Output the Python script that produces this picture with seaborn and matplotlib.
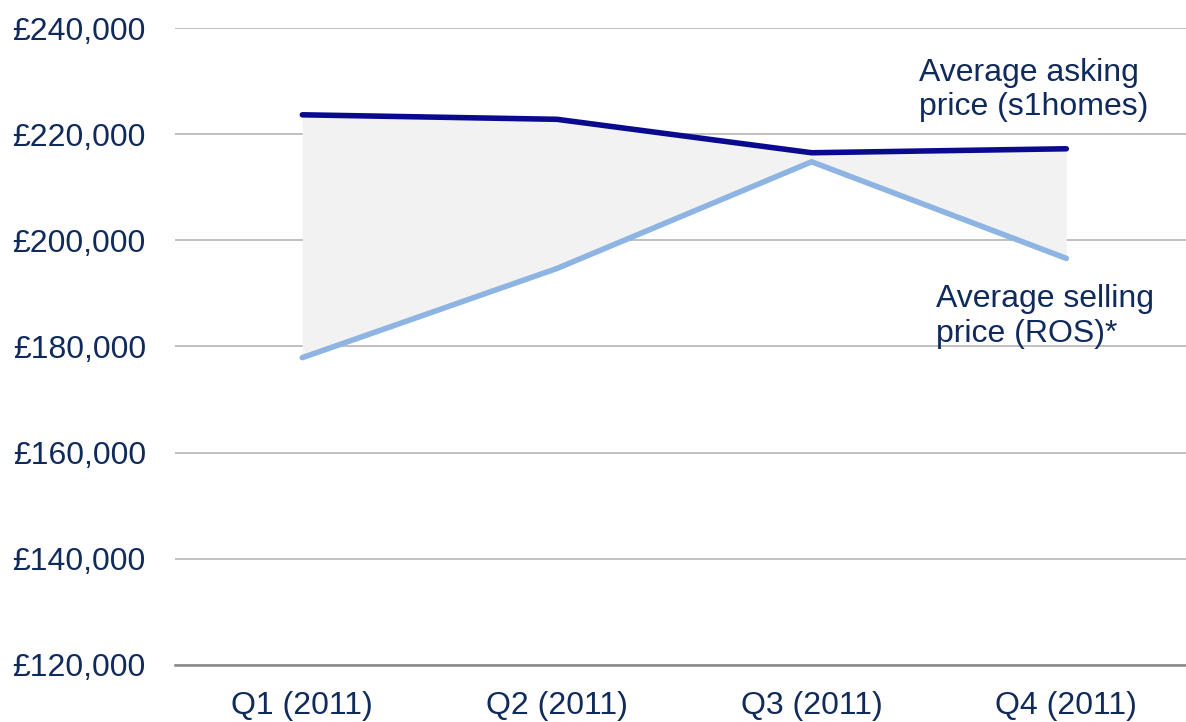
import pandas as pd
import seaborn as sns
import matplotlib.pyplot as plt
from matplotlib.ticker import FuncFormatter

# data
quarters = ["Q1 (2011)", "Q2 (2011)", "Q3 (2011)", "Q4 (2011)"]
asking_price = [223650, 222800, 216500, 217250]
selling_price = [177900, 194700, 214800, 196600]

text_col = "#102a5c"

df = pd.DataFrame({"pos": range(len(quarters)), "quarter": quarters,
                   "asking": asking_price, "selling": selling_price})

sns.set_style("white")
plt.rcParams["font.family"] = ["Liberation Sans", "DejaVu Sans"]

fig = plt.figure(figsize=(11.86, 7.22), dpi=100)
ax = fig.add_axes([175 / 1186, 0.079, 1 - 175 / 1186, 0.8822])

# shaded gap between the two prices
ax.fill_between(df["pos"], df["asking"], df["selling"], color="#f2f2f2", zorder=1, lw=0)

sns.lineplot(data=df, x="pos", y="asking", color="#0a0a8f", lw=4, ax=ax, zorder=3,
             solid_capstyle="round")
sns.lineplot(data=df, x="pos", y="selling", color="#8db4e2", lw=4, ax=ax, zorder=2,
             solid_capstyle="round")

ax.set_xlim(-0.5, 3.47)
ax.set_ylim(120000, 240000)
ax.set_yticks(range(120000, 240001, 20000))
ax.yaxis.set_major_formatter(FuncFormatter(lambda v, p: f"£{int(v):,}"))
ax.set_xticks(df["pos"])
ax.set_xticklabels(quarters)
ax.set_xlabel("")
ax.set_ylabel("")

ax.grid(axis="y", color="#c0c0c0", lw=1.4)
ax.set_axisbelow(True)
for s in ["top", "right", "left"]:
    ax.spines[s].set_visible(False)
ax.spines["bottom"].set_color("#888888")
ax.spines["bottom"].set_linewidth(1.8)
ax.spines["bottom"].set_zorder(4)

ax.tick_params(axis="y", length=0, pad=21, labelsize=23, labelcolor=text_col)
ax.tick_params(axis="x", length=0, pad=19, labelsize=23, labelcolor=text_col)

# series labels
ax.text(2.42, 228300, "Average asking\nprice (s1homes)", fontsize=23, color=text_col,
        va="center", ha="left", linespacing=1.2)
ax.text(2.49, 185700, "Average selling\nprice (ROS)*", fontsize=23, color=text_col,
        va="center", ha="left", linespacing=1.2)

fig.savefig("out.png", dpi=100)
